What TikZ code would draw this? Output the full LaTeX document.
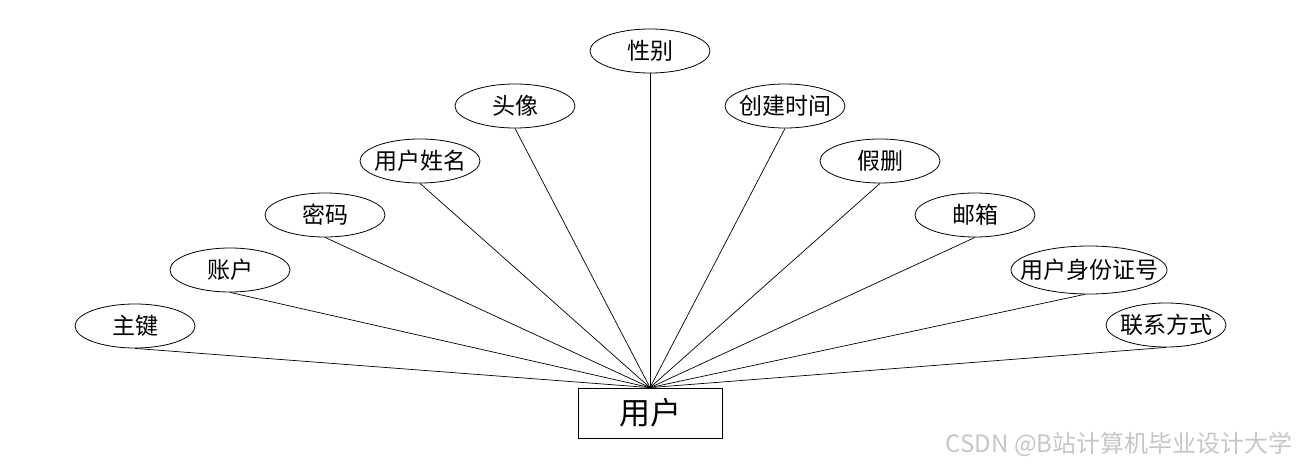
\documentclass[tikz,border=0pt]{standalone}
\usepackage{fontspec}
\setmainfont{Noto Sans CJK SC}
\usepackage{tikz}
\usetikzlibrary{positioning,shapes.geometric}

\begin{document}
\begin{tikzpicture}[
  x=1pt,y=-1pt,
  attr/.style={ellipse,draw,line width=0.8pt,inner xsep=-6pt,inner ysep=0pt,minimum width=120pt,minimum height=44pt,font=\fontsize{23}{23}\selectfont},
  ent/.style={rectangle,draw,line width=0.8pt,minimum width=144pt,minimum height=50pt,font=\fontsize{31}{31}\selectfont},
  link/.style={draw,line width=0.7pt}
]
\useasboundingbox (0,0) rectangle (1300,468);
\node[ent] (user) at (650,413) {用户};
\node[attr] (pk) at (135,326) {主键};
\node[attr] (acc) at (230,270) {账户};
\node[attr] (pwd) at (325,215) {密码};
\node[attr] (uname) at (420,161) {用户姓名};
\node[attr] (avatar) at (515,106) {头像};
\node[attr] (sex) at (650,51) {性别};
\node[attr] (ctime) at (785,106) {创建时间};
\node[attr] (del) at (880,161) {假删};
\node[attr] (mail) at (975,215) {邮箱};
\node[attr,inner xsep=-15pt,minimum width=156pt,minimum height=48pt] (idno) at (1089,270) {用户身份证号};
\node[attr] (tel) at (1166,325) {联系方式};
\foreach \a in {pk,acc,pwd,uname,avatar,sex,ctime,del,mail,tel}
  \draw[link] (\a.south) -- (user.north);
\draw[link] (idno.-100) -- (user.north);
\node[text=gray!45,anchor=east,font=\fontsize{24}{24}\selectfont] (mark) at (1296,444) {CSDN @B站计算机毕业设计大学};
\end{tikzpicture}
\end{document}
